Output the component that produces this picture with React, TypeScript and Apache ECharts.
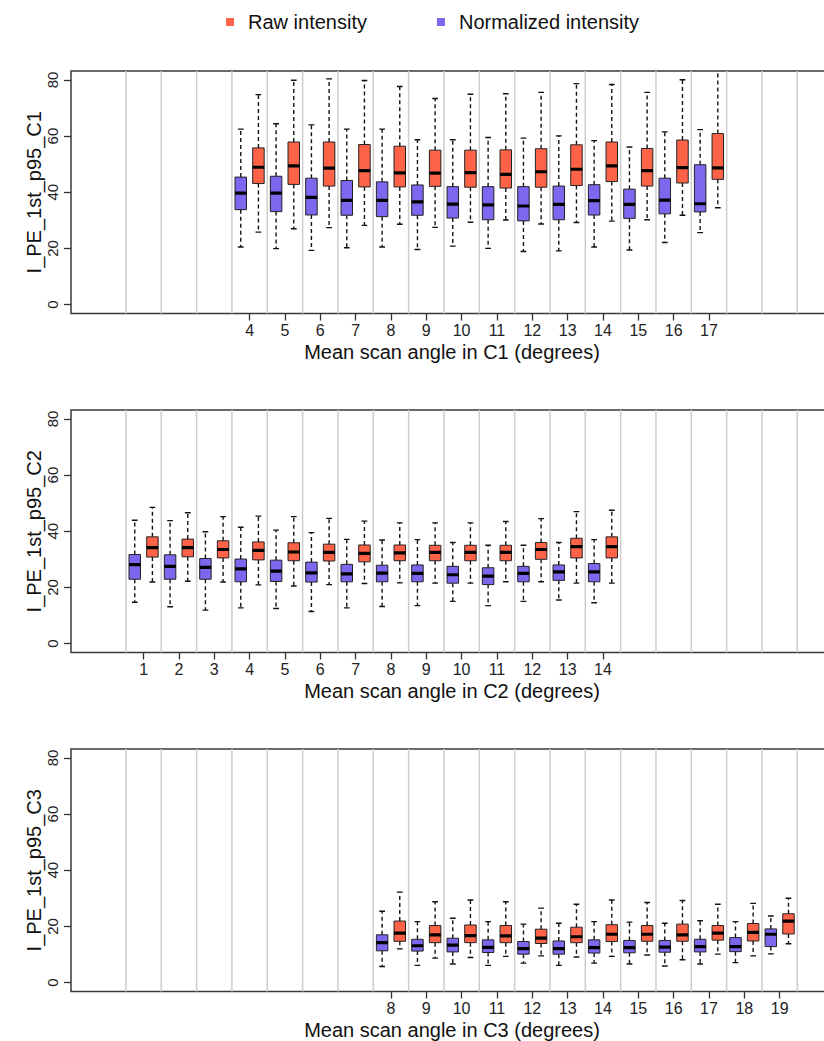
import React, { useEffect, useRef } from "react";
import * as echarts from "echarts";

// ---------- data ----------
const RAW_NAME = "Raw intensity";
const NORM_NAME = "Normalized intensity";
const Y_TICKS = [0, 20, 40, 60, 80];
const Y_MIN = -3.2;
const Y_MAX = 83.2;
const X_MIN = -1.054;
const X_MAX = 20.51;
const SLOT_EDGES = [0.5, 1.5, 2.5, 3.5, 4.5, 5.5, 6.5, 7.5, 8.5, 9.5, 10.5, 11.5, 12.5, 13.5, 14.5, 15.5, 16.5, 17.5, 18.5, 19.5];

// each row: [lower whisker, Q1, median, Q3, upper whisker]
const C1_ANGLES = [4, 5, 6, 7, 8, 9, 10, 11, 12, 13, 14, 15, 16, 17];
const C1_NORM = [
  [20.5, 33.8, 39.7, 45.4, 62.5],
  [19.9, 33.1, 39.7, 45.7, 64.4],
  [19.3, 31.9, 38.2, 45.0, 64.0],
  [20.2, 31.8, 37.1, 44.2, 62.5],
  [20.5, 31.3, 37.1, 43.7, 62.5],
  [19.6, 31.8, 36.6, 42.6, 58.7],
  [20.8, 30.8, 35.8, 42.0, 58.7],
  [20.0, 30.2, 35.5, 42.0, 59.5],
  [18.9, 29.8, 35.1, 42.0, 59.3],
  [19.1, 30.2, 35.7, 42.2, 60.1],
  [20.5, 31.9, 37.0, 42.7, 58.4],
  [19.4, 30.7, 35.7, 41.1, 56.1],
  [22.1, 32.3, 37.2, 45.0, 61.5],
  [25.6, 33.0, 35.9, 49.8, 62.3],
];
const C1_RAW = [
  [25.8, 43.1, 48.9, 55.8, 74.8],
  [27.0, 42.8, 49.4, 57.9, 79.9],
  [27.4, 42.2, 48.6, 57.9, 80.4],
  [28.2, 41.9, 47.7, 57.0, 79.8],
  [28.6, 41.9, 46.9, 56.4, 77.7],
  [27.5, 42.1, 46.8, 55.0, 73.4],
  [29.3, 41.8, 47.0, 55.0, 74.9],
  [30.1, 41.5, 46.4, 55.1, 75.1],
  [28.7, 41.8, 47.3, 55.5, 75.6],
  [29.2, 42.4, 48.2, 56.9, 78.7],
  [29.7, 43.8, 49.4, 57.9, 78.4],
  [30.2, 42.2, 47.7, 55.6, 75.6],
  [31.8, 43.3, 48.8, 58.6, 80.1],
  [34.5, 44.6, 48.7, 60.9, 88.0],
];

const C2_ANGLES = [1, 2, 3, 4, 5, 6, 7, 8, 9, 10, 11, 12, 13, 14];
const C2_NORM = [
  [14.7, 22.9, 28.1, 31.7, 43.9],
  [13.1, 22.9, 27.5, 31.6, 43.8],
  [11.9, 22.9, 27.1, 30.3, 39.8],
  [12.7, 22.0, 26.6, 30.1, 41.4],
  [12.5, 22.1, 25.8, 29.7, 40.4],
  [11.4, 21.9, 25.2, 29.0, 39.5],
  [12.7, 22.0, 24.8, 28.2, 37.1],
  [13.2, 22.0, 25.1, 27.9, 36.9],
  [13.5, 22.0, 25.0, 28.0, 37.0],
  [15.0, 21.5, 24.5, 27.5, 36.0],
  [13.5, 21.0, 24.0, 27.0, 35.0],
  [15.0, 22.0, 25.0, 27.5, 35.0],
  [15.5, 22.5, 25.5, 28.0, 36.0],
  [14.5, 22.0, 25.5, 28.5, 37.0],
];
const C2_RAW = [
  [21.9, 30.8, 34.2, 38.0, 48.5],
  [22.2, 30.9, 34.2, 37.2, 46.6],
  [21.9, 30.5, 33.5, 36.6, 45.2],
  [20.9, 29.8, 33.2, 36.2, 45.4],
  [20.5, 29.5, 32.6, 35.9, 45.2],
  [21.0, 29.4, 32.5, 35.4, 44.6],
  [21.4, 29.1, 32.1, 35.1, 43.6],
  [21.6, 29.5, 32.3, 35.1, 43.0],
  [21.5, 29.5, 32.5, 35.0, 43.0],
  [21.5, 29.5, 32.5, 35.0, 43.0],
  [22.0, 29.5, 32.5, 35.0, 43.5],
  [22.0, 30.0, 33.5, 36.0, 44.5],
  [21.5, 30.5, 34.5, 37.5, 47.0],
  [21.5, 30.5, 34.5, 38.0, 47.5],
];

const C3_ANGLES = [8, 9, 10, 11, 12, 13, 14, 15, 16, 17, 18, 19];
const C3_NORM = [
  [5.7, 11.3, 14.2, 17.0, 25.4],
  [6.1, 11.2, 13.1, 15.4, 21.7],
  [6.6, 10.9, 13.3, 15.8, 22.9],
  [6.1, 10.7, 12.5, 15.2, 21.7],
  [6.9, 10.1, 12.1, 14.6, 20.8],
  [6.1, 10.1, 12.1, 14.8, 21.1],
  [6.9, 10.5, 12.4, 15.2, 21.7],
  [6.6, 10.6, 12.4, 15.0, 21.5],
  [5.9, 10.8, 12.6, 15.0, 21.1],
  [6.6, 10.9, 12.8, 15.4, 22.0],
  [7.1, 11.0, 12.8, 16.0, 21.7],
  [10.2, 12.8, 17.2, 19.1, 23.7],
];
const C3_RAW = [
  [12.0, 14.7, 17.6, 21.9, 32.2],
  [8.7, 14.2, 17.0, 20.3, 28.8],
  [8.9, 14.2, 16.7, 20.5, 29.4],
  [9.3, 14.2, 16.6, 20.3, 28.8],
  [9.5, 13.9, 15.8, 19.0, 26.5],
  [9.1, 14.2, 16.3, 19.7, 27.9],
  [9.3, 14.6, 17.2, 20.6, 29.4],
  [9.8, 14.7, 17.2, 20.3, 28.5],
  [8.1, 14.7, 17.0, 20.8, 29.2],
  [10.1, 15.1, 17.6, 20.3, 27.9],
  [9.5, 14.8, 17.9, 21.0, 28.2],
  [13.8, 17.3, 21.9, 24.5, 30.0],
];

const PANELS = [
  { id: "C1", angles: C1_ANGLES, norm: C1_NORM, raw: C1_RAW },
  { id: "C2", angles: C2_ANGLES, norm: C2_NORM, raw: C2_RAW },
  { id: "C3", angles: C3_ANGLES, norm: C3_NORM, raw: C3_RAW },
];

// ---------- styles ----------
const RAW_COLOR = "#FF6347";
const NORM_COLOR = "#7B68EE";
const FONT = "'Liberation Sans', Arial, Helvetica, sans-serif";
const GRID_TOPS = [71, 410, 749];
const GRID_HEIGHT = 242.5;
const GRID_LEFT = 71;
const GRID_WIDTH = 762;

function boxRenderer(offset: number, color: string) {
  return (params: any, api: any) => {
    const angle = api.value(0);
    const lo = api.value(1);
    const q1 = api.value(2);
    const med = api.value(3);
    const q3 = api.value(4);
    const hi = api.value(5);
    const slot = api.size([1, 0])[0];
    const cx = api.coord([angle, 0])[0] + offset * slot;
    const yLo = api.coord([angle, lo])[1];
    const yQ1 = api.coord([angle, q1])[1];
    const yMed = api.coord([angle, med])[1];
    const yQ3 = api.coord([angle, q3])[1];
    const yHi = api.coord([angle, hi])[1];
    const bw = 0.325 * slot;
    const cw = bw / 2;
    const dash = { stroke: "#111", lineWidth: 1.4, lineDash: [4, 3] };
    const solid = { stroke: "#111", lineWidth: 1.4 };
    return {
      type: "group",
      children: [
        { type: "line", shape: { x1: cx, y1: yQ3, x2: cx, y2: yHi }, style: dash },
        { type: "line", shape: { x1: cx, y1: yQ1, x2: cx, y2: yLo }, style: dash },
        { type: "line", shape: { x1: cx - cw / 2, y1: yHi, x2: cx + cw / 2, y2: yHi }, style: solid },
        { type: "line", shape: { x1: cx - cw / 2, y1: yLo, x2: cx + cw / 2, y2: yLo }, style: solid },
        {
          type: "rect",
          shape: { x: cx - bw / 2, y: yQ3, width: bw, height: yQ1 - yQ3 },
          style: { fill: color, stroke: "#222", lineWidth: 1 },
        },
        {
          type: "line",
          shape: { x1: cx - bw / 2, y1: yMed, x2: cx + bw / 2, y2: yMed },
          style: { stroke: "#000", lineWidth: 3.2 },
        },
      ],
    };
  };
}

function separatorRenderer(params: any, api: any) {
  const x = api.value(0);
  const top = api.coord([x, Y_MAX]);
  const bot = api.coord([x, Y_MIN]);
  return {
    type: "line",
    shape: { x1: top[0], y1: top[1], x2: bot[0], y2: bot[1] },
    style: { stroke: "#CDCDCD", lineWidth: 1.5 },
  };
}

function buildOption() {
  const grid: any[] = [];
  const xAxis: any[] = [];
  const yAxis: any[] = [];
  const series: any[] = [];

  PANELS.forEach((p, i) => {
    grid.push({
      left: GRID_LEFT,
      top: GRID_TOPS[i],
      width: GRID_WIDTH,
      height: GRID_HEIGHT,
      containLabel: false,
      outerBoundsMode: "none",
      show: true,
      borderColor: "#3a3a3a",
      borderWidth: 1.5,
      backgroundColor: "transparent",
    });
    xAxis.push({
      type: "value",
      gridIndex: i,
      position: "bottom",
      min: X_MIN,
      max: X_MAX,
      axisLine: { show: false, onZero: false },
      splitLine: { show: false },
      axisTick: {
        show: true,
        length: 7,
        customValues: p.angles,
        lineStyle: { color: "#333", width: 1.3 },
      },
      axisLabel: {
        show: true,
        customValues: p.angles,
        fontFamily: FONT,
        fontSize: 16,
        color: "#222",
        margin: 9,
      },
      name: `Mean scan angle in ${p.id} (degrees)`,
      nameLocation: "middle",
      nameGap: 28,
      nameTextStyle: { fontFamily: FONT, fontSize: 20, color: "#111" },
    });
    yAxis.push({
      type: "value",
      gridIndex: i,
      position: "left",
      min: Y_MIN,
      max: Y_MAX,
      axisLine: { show: false, onZero: false },
      splitLine: { show: false },
      axisTick: {
        show: true,
        length: 7,
        customValues: Y_TICKS,
        lineStyle: { color: "#333", width: 1.3 },
      },
      axisLabel: {
        show: true,
        customValues: Y_TICKS,
        rotate: 90,
        align: "center",
        verticalAlign: "bottom",
        fontFamily: FONT,
        fontSize: 15,
        color: "#222",
        margin: 11,
      },
      name: `I_PE_1st_p95_${p.id}`,
      nameLocation: "middle",
      nameGap: 27,
      nameMoveOverlap: false,
      nameTextStyle: { fontFamily: FONT, fontSize: 20, color: "#111" },
    });

    series.push({
      type: "custom",
      name: "separators",
      xAxisIndex: i,
      yAxisIndex: i,
      silent: true,
      z: 1,
      data: SLOT_EDGES.map((v) => [v]),
      renderItem: separatorRenderer,
    });
    series.push({
      type: "custom",
      name: NORM_NAME,
      xAxisIndex: i,
      yAxisIndex: i,
      clip: true,
      z: 3,
      itemStyle: { color: NORM_COLOR },
      encode: { x: 0, y: [1, 2, 3, 4, 5] },
      data: p.angles.map((a, k) => [a, ...p.norm[k]]),
      renderItem: boxRenderer(-0.25, NORM_COLOR),
    });
    series.push({
      type: "custom",
      name: RAW_NAME,
      xAxisIndex: i,
      yAxisIndex: i,
      clip: true,
      z: 3,
      itemStyle: { color: RAW_COLOR },
      encode: { x: 0, y: [1, 2, 3, 4, 5] },
      data: p.angles.map((a, k) => [a, ...p.raw[k]]),
      renderItem: boxRenderer(0.25, RAW_COLOR),
    });
  });

  return {
    animation: false,
    backgroundColor: "#ffffff",
    legend: {
      data: [RAW_NAME, NORM_NAME],
      left: 226,
      top: 12,
      padding: 0,
      icon: "rect",
      itemWidth: 8,
      itemHeight: 8,
      itemGap: 70,
      selectedMode: false,
      textStyle: {
        fontFamily: FONT,
        fontSize: 20,
        color: "#111",
        padding: [0, 0, 0, 9],
      },
    },
    grid,
    xAxis,
    yAxis,
    series,
  };
}

export default function App() {
  const ref = useRef<HTMLDivElement>(null);
  useEffect(() => {
    if (!ref.current) return;
    const chart = echarts.init(ref.current, undefined, { renderer: "svg" });
    chart.setOption(buildOption() as any);
    return () => chart.dispose();
  }, []);
  return (
    <div
      ref={ref}
      style={{ position: "fixed", left: 0, top: 0, width: 824, height: 1041, background: "#fff" }}
    />
  );
}
